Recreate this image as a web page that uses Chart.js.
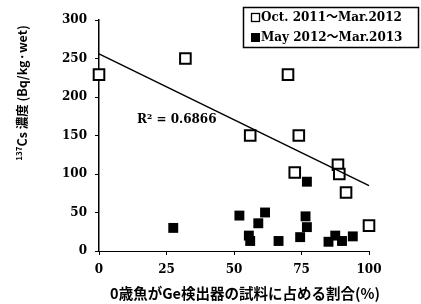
<!DOCTYPE html>
<html><head><meta charset="utf-8">
<script src="https://cdn.jsdelivr.net/npm/chart.js@4/dist/chart.umd.min.js"></script>
<style>html,body{margin:0;padding:0;background:#fff}canvas{display:block}</style>
</head><body>
<canvas id="c" width="421" height="304"></canvas>
<script>
// Data
const seriesNames = ["Oct. 2011～Mar.2012", "May 2012～Mar.2013"];
const openX = [0, 32, 70, 56, 74, 72.5, 88.5, 89, 91.5, 100];
const openY = [229, 250, 229, 150, 150, 102, 112, 100, 76, 33];
const filledX = [27.5, 52, 55.5, 56, 59, 61.5, 66.5, 74.5, 76.5, 77, 77, 85, 87.5, 90, 94];
const filledY = [30, 46, 20, 13, 36, 50, 13, 18, 45, 31, 90, 12, 20, 13, 19];
const trendX = [0, 100];
const trendY = [256, 85];
const xTicks = [0, 25, 50, 75, 100];
const yTicks = [0, 50, 100, 150, 200, 250, 300];
const r2Label = "R² = 0.6866";
const xTitle = "0歳魚がGe検出器の試料に占める割合(%)";
const yTitleSup = "137";
const yTitleMain = "Cs 濃度 (Bq/kg·wet)";

const pts = (xs, ys) => xs.map((x, i) => ({x, y: ys[i]}));

const deco = {
  id: 'deco',
  afterDraw(chart) {
    const ctx = chart.ctx;
    ctx.save();
    ctx.fillStyle = '#000';
    // R² label
    ctx.font = 'bold 12px "DejaVu Serif"';
    ctx.textBaseline = 'middle';
    ctx.textAlign = 'left';
    ctx.fillText(r2Label, 137, 120);
    // x title
    ctx.font = 'bold 14.5px "Noto Sans CJK JP"';
    ctx.textAlign = 'center';
    ctx.fillText(xTitle, 245, 293);
    // y title (rotated)
    ctx.translate(22, 93);
    ctx.rotate(-Math.PI / 2);
    ctx.font = 'bold 8px "Noto Sans CJK JP"';
    const wSup = ctx.measureText(yTitleSup).width;
    ctx.font = 'bold 12.5px "Noto Sans CJK JP"';
    const wMain = ctx.measureText(yTitleMain).width;
    const total = wSup + wMain;
    ctx.textAlign = 'left';
    ctx.font = 'bold 8px "Noto Sans CJK JP"';
    ctx.fillText(yTitleSup, -total / 2, -3);
    ctx.font = 'bold 12.5px "Noto Sans CJK JP"';
    ctx.fillText(yTitleMain, -total / 2 + wSup, 0);
    ctx.restore();

    // legend
    ctx.save();
    ctx.fillStyle = '#fff';
    ctx.fillRect(243, 7, 176, 41);
    ctx.strokeStyle = '#000';
    ctx.lineWidth = 1.5;
    ctx.strokeRect(243.5, 7.5, 175, 40);
    const rows = [18, 38];
    ctx.textBaseline = 'middle';
    ctx.textAlign = 'left';
    ctx.fillStyle = '#000';
    ctx.lineWidth = 1.3;
    ctx.strokeRect(251.5, rows[0] - 4.5, 8, 8);
    ctx.fillRect(251, rows[1] - 5, 9, 9);
    const maxW = 150;
    ctx.font = 'bold 12px "DejaVu Serif", "Noto Sans CJK JP"';
    seriesNames.forEach((s, i) => ctx.fillText(s, 261, rows[i], maxW));
    ctx.restore();
  }
};

new Chart(document.getElementById('c'), {
  type: 'scatter',
  data: {
    datasets: [
      {label: seriesNames[0], data: pts(openX, openY), pointStyle: 'rect', pointRadius: 7.5,
       pointBorderWidth: 2, pointBorderColor: '#000', pointBackgroundColor: '#fff', order: 1, clip: false},
      {label: seriesNames[1], data: pts(filledX, filledY), pointStyle: 'rect', pointRadius: 7,
       pointBorderWidth: 0, pointBorderColor: '#000', pointBackgroundColor: '#000', order: 2, clip: false},
      {label: 'trend', data: pts(trendX, trendY), showLine: true, pointRadius: 0,
       borderColor: '#000', borderWidth: 1.5, order: 0, clip: false}
    ]
  },
  options: {
    responsive: false,
    animation: false,
    devicePixelRatio: 1,
    layout: {padding: {left: 0, top: 20, right: 52, bottom: 0}},
    plugins: {legend: {display: false}, tooltip: {enabled: false}},
    scales: {
      x: {
        type: 'linear', min: 0, max: 100,
        afterBuildTicks: s => { s.ticks = xTicks.map(v => ({value: v})); },
        afterFit: s => { s.height = 53; },
        ticks: {color: '#000', font: {family: '"DejaVu Serif"', weight: 'bold', size: 12}, padding: 8},
        grid: {drawOnChartArea: false, tickLength: 4, color: '#000', lineWidth: 1},
        border: {display: true, color: '#000', width: 1}
      },
      y: {
        type: 'linear', min: 0, max: 300,
        afterBuildTicks: s => { s.ticks = yTicks.map(v => ({value: v})); },
        afterFit: s => { s.width = 99; },
        ticks: {color: '#000', font: {family: '"DejaVu Serif"', weight: 'bold', size: 12}, padding: 8},
        grid: {drawOnChartArea: false, tickLength: 4, color: '#000', lineWidth: 1},
        border: {display: true, color: '#000', width: 1.5}
      }
    }
  },
  plugins: [deco]
});
</script>
</body></html>
